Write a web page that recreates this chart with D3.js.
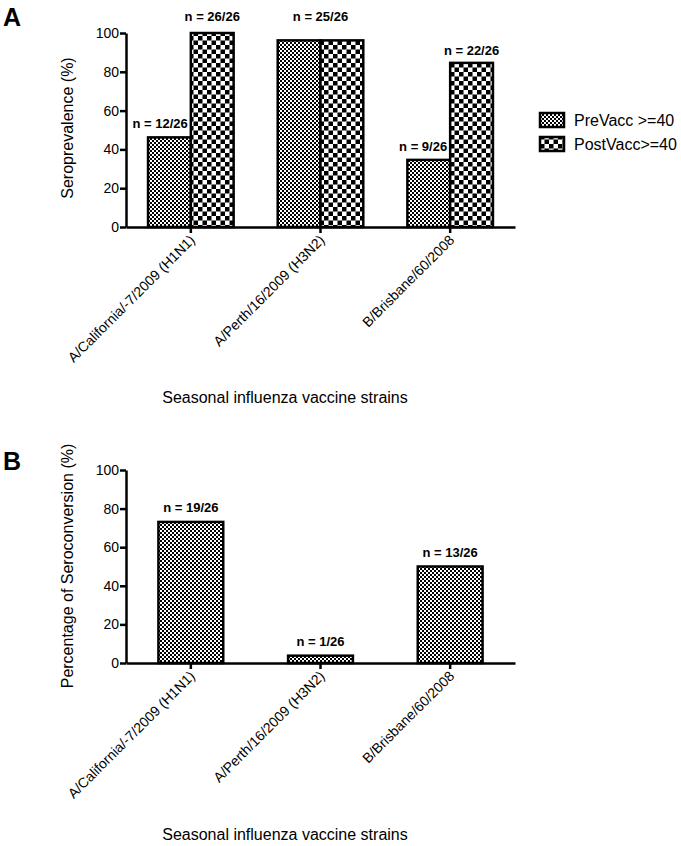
<!DOCTYPE html>
<html lang="en">
<head>
<meta charset="utf-8">
<title>Seroprevalence and seroconversion</title>
<script src="https://d3js.org/d3.v7.min.js"></script>
<style>
body { margin: 0; background: #fff; }
svg { font-family: Arial, "Liberation Sans", sans-serif; }
.axis path, .axis line { stroke: #000; stroke-width: 2.5px; }
.axis text { font-size: 14px; fill: #000; }
.bar { stroke: #000; stroke-width: 2.5px; }
.nlab { font-size: 13px; font-weight: bold; }
</style>
</head>
<body>
<script>
// data
var strains = ["A/California/-7/2009 (H1N1)", "A/Perth/16/2009 (H3N2)", "B/Brisbane/60/2008"];
var series = ["PreVacc >=40", "PostVacc>=40"];
var preVacc = [46.2, 96.2, 34.6];
var postVacc = [100, 96.2, 84.6];
var preLabels = ["n = 12/26", "", "n = 9/26"];
var postLabels = ["n = 26/26", "", "n = 22/26"];
var groupLabels = ["", "n = 25/26", ""];
var seroconv = [73.1, 3.8, 50];
var seroLabels = ["n = 19/26", "n = 1/26", "n = 13/26"];
var yTicks = [0, 20, 40, 60, 80, 100];

var svg = d3.select("body").append("svg")
    .attr("width", 681)
    .attr("height", 846);

// patterns
var defs = svg.append("defs");
function checker(id, s) {
  var p = defs.append("pattern").attr("id", id)
    .attr("patternUnits", "userSpaceOnUse")
    .attr("width", s * 2).attr("height", s * 2);
  p.append("rect").attr("width", s * 2).attr("height", s * 2).attr("fill", "#fff");
  p.append("rect").attr("width", s).attr("height", s).attr("fill", "#000");
  p.append("rect").attr("x", s).attr("y", s).attr("width", s).attr("height", s).attr("fill", "#000");
}
checker("fine", 2);
checker("coarse", 4.5);
var fills = ["url(#fine)", "url(#coarse)"];

var x0 = d3.scaleBand().domain(strains).range([126, 515]).padding(0);
var bw = x0.bandwidth();
var x1 = d3.scaleBand().domain(series).range([bw * 0.17, bw * 0.83]);

function drawAxes(y, ylabel, letter, letterY, ylabelY, xlabelY) {
  var base = y(0);
  svg.append("g").attr("class", "axis")
      .attr("transform", "translate(126,0)")
      .call(d3.axisLeft(y).tickValues(yTicks).tickSize(6).tickSizeOuter(0).tickPadding(1));

  svg.append("g").attr("class", "axis")
      .attr("transform", "translate(0," + base + ")")
      .call(d3.axisBottom(x0).tickSize(6).tickSizeOuter(0).tickFormat(""));

  svg.selectAll(null).data(strains).enter().append("text")
      .attr("transform", function(d) {
        return "translate(" + (x0(d) + bw / 2 + 5) + "," + (base + 14) + ")rotate(-45)";
      })
      .attr("text-anchor", "end")
      .attr("font-size", "14px")
      .text(function(d) { return d; });

  svg.append("text")
      .attr("transform", "translate(73," + ylabelY + ")rotate(-90)")
      .attr("text-anchor", "middle")
      .attr("font-size", "16px")
      .text(ylabel);

  svg.append("text")
      .attr("x", 285).attr("y", xlabelY)
      .attr("text-anchor", "middle")
      .attr("font-size", "16px")
      .text("Seasonal influenza vaccine strains");

  svg.append("text")
      .attr("x", 3).attr("y", letterY)
      .attr("font-size", "25px").attr("font-weight", "bold")
      .text(letter);
}

// Panel A
var yA = d3.scaleLinear().domain([0, 100]).range([227, 33]);
var gA = svg.append("g");
strains.forEach(function(s, i) {
  var vals = [preVacc[i], postVacc[i]];
  series.forEach(function(k, j) {
    gA.append("rect").attr("class", "bar")
      .attr("x", x0(s) + x1(k))
      .attr("width", x1.bandwidth())
      .attr("y", yA(vals[j]))
      .attr("height", yA(0) - yA(vals[j]))
      .attr("fill", fills[j]);
  });
});
drawAxes(yA, "Seroprevalence (%)", "A", 26, 128, 403);

function labY(y, v, gap) { return v > 90 ? y(100) - 12 : y(v) - gap; }
strains.forEach(function(s, i) {
  svg.append("text").attr("class", "nlab")
    .attr("x", x0(s) + x1(series[0]) + x1.bandwidth() - 3)
    .attr("y", labY(yA, preVacc[i], 9))
    .attr("text-anchor", "end").text(preLabels[i]);
  svg.append("text").attr("class", "nlab")
    .attr("x", x0(s) + x1(series[1]) + x1.bandwidth() / 2)
    .attr("y", labY(yA, postVacc[i], 8))
    .attr("text-anchor", "middle").text(postLabels[i]);
  svg.append("text").attr("class", "nlab")
    .attr("x", x0(s) + bw / 2)
    .attr("y", labY(yA, preVacc[i], 8))
    .attr("text-anchor", "middle").text(groupLabels[i]);
});

// legend
var leg = svg.append("g");
series.forEach(function(k, j) {
  var ly = 113 + j * 24;
  leg.append("rect").attr("x", 540).attr("y", ly).attr("width", 24).attr("height", 14)
    .attr("fill", fills[j]).attr("stroke", "#000").attr("stroke-width", 2.5);
  leg.append("text").attr("x", 574).attr("y", ly + 13)
    .attr("font-size", "16px").text(k);
});

// Panel B
var yB = d3.scaleLinear().domain([0, 100]).range([663, 470]);
strains.forEach(function(s, i) {
  svg.append("rect").attr("class", "bar")
    .attr("x", x0(s) + bw * 0.25)
    .attr("width", bw * 0.5)
    .attr("y", yB(seroconv[i]))
    .attr("height", yB(0) - yB(seroconv[i]))
    .attr("fill", fills[0]);
  svg.append("text").attr("class", "nlab")
    .attr("x", x0(s) + bw / 2)
    .attr("y", yB(seroconv[i]) - 10)
    .attr("text-anchor", "middle").text(seroLabels[i]);
});
drawAxes(yB, "Percentage of Seroconversion (%)", "B", 470, 566, 840);
</script>
</body>
</html>
